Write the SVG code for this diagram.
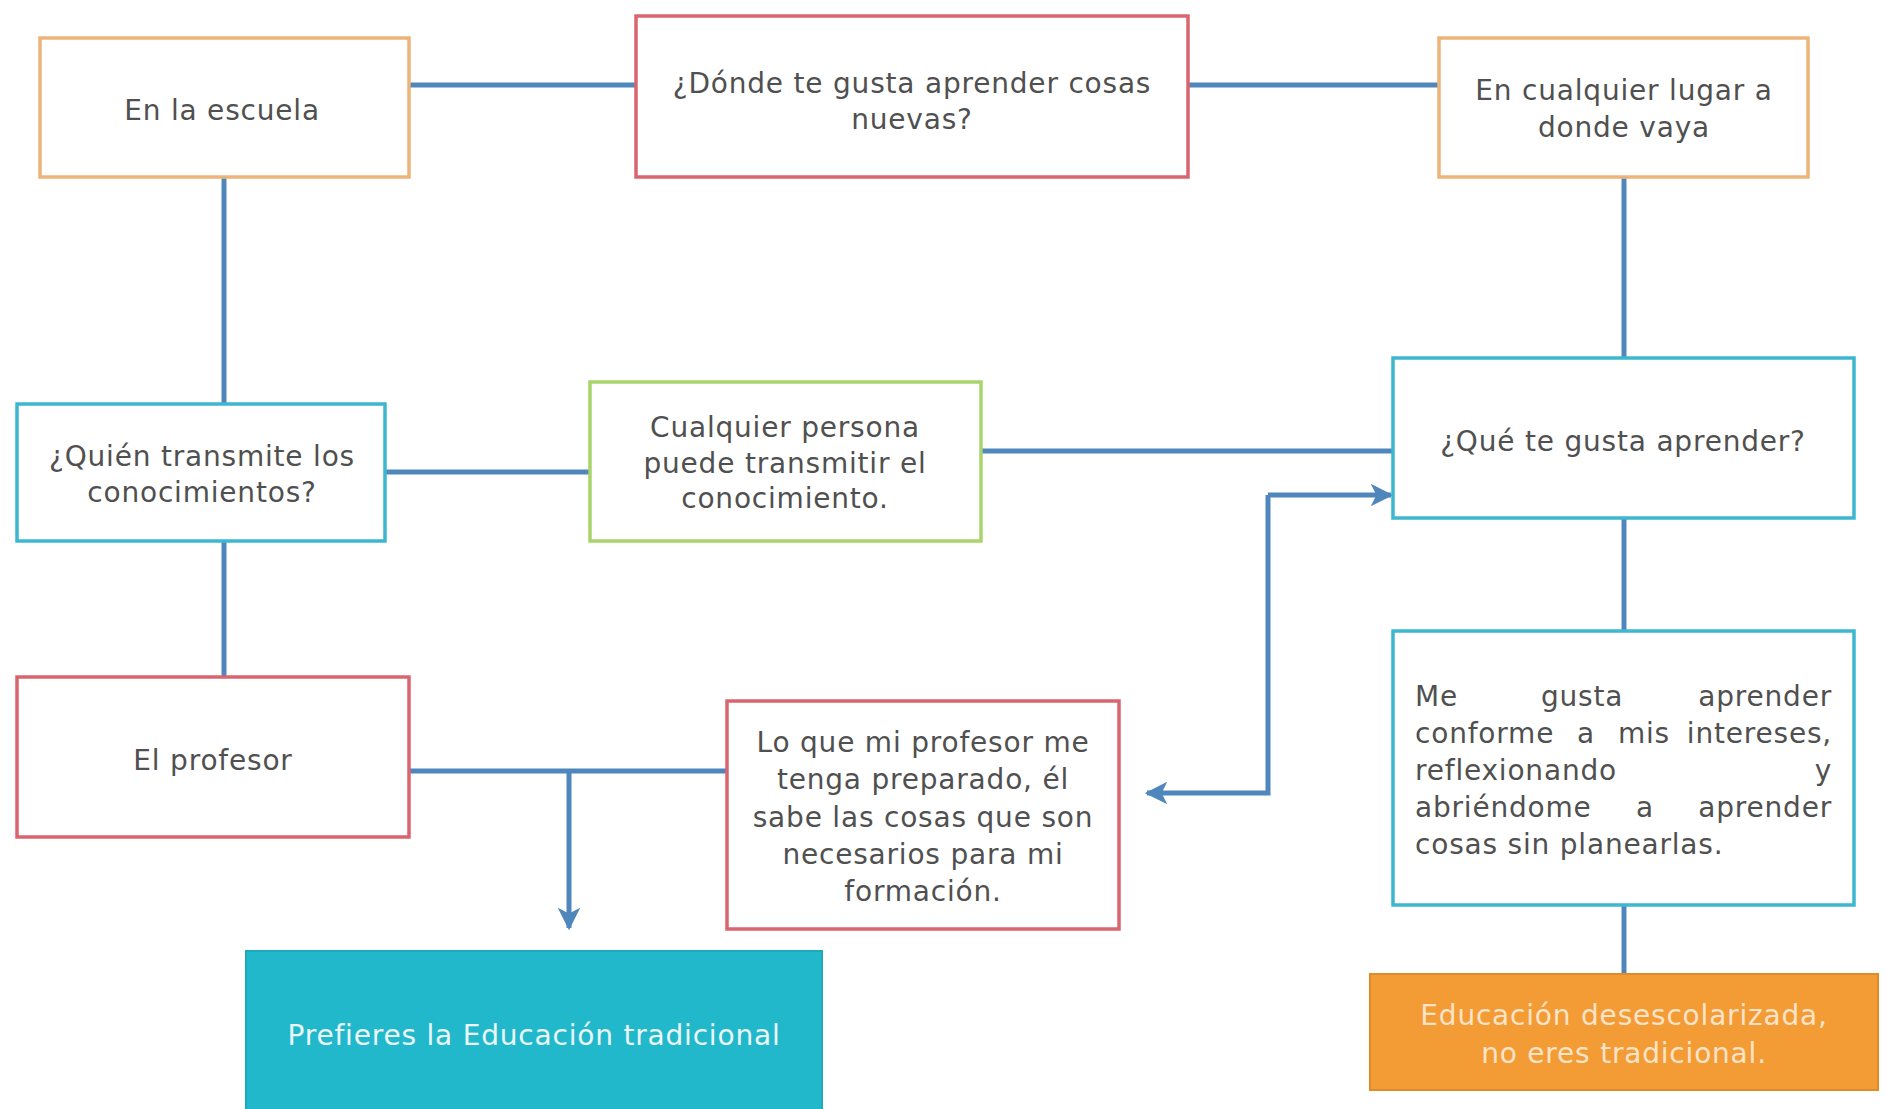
<svg xmlns="http://www.w3.org/2000/svg" width="1885" height="1109" viewBox="0 0 1885 1109">
<style>
.box{fill:#ffffff;stroke-width:3.5}
.org{stroke:#EDB47A}
.red{stroke:#D9656F}
.cyn{stroke:#3DB6CF}
.grn{stroke:#A9D46C}
.t{font-family:"DejaVu Sans","Open Sans",sans-serif;font-size:28px;letter-spacing:0.8px;fill:#505050;text-anchor:middle}
.w{fill:#EAF6F8}
.c{fill:none;stroke:#4F87BD;stroke-width:5}
</style>
<defs>
<marker id="ah" viewBox="0 0 10 10" refX="9" refY="5" markerWidth="4.5" markerHeight="4.5" orient="auto" markerUnits="strokeWidth">
<path d="M0,0 L10,5 L0,10 L2.5,5 Z" fill="#4F87BD"/>
</marker>
</defs>
<rect width="1885" height="1109" fill="#ffffff"/>
<g id="connectors">
<line class="c" x1="409" y1="85" x2="636" y2="85"/>
<line class="c" x1="1188" y1="85" x2="1439" y2="85"/>
<line class="c" x1="224" y1="177" x2="224" y2="404"/>
<line class="c" x1="224" y1="541" x2="224" y2="677"/>
<line class="c" x1="385" y1="472" x2="590" y2="472"/>
<line class="c" x1="981" y1="451" x2="1393" y2="451"/>
<line class="c" x1="1624" y1="177" x2="1624" y2="358"/>
<line class="c" x1="1624" y1="518" x2="1624" y2="631"/>
<line class="c" x1="1624" y1="905" x2="1624" y2="974"/>
<line class="c" x1="409" y1="771" x2="727" y2="771"/>
<line class="c" x1="569" y1="771" x2="569" y2="928" marker-end="url(#ah)"/>
<polyline class="c" points="1268,495 1391,495" marker-end="url(#ah)"/>
<polyline class="c" points="1268,495 1268,793 1147,793" marker-end="url(#ah)"/>
</g>
<g id="n1"><rect class="box org" x="40" y="38" width="369" height="139"/>
<text class="t" x="222" y="120">En la escuela</text></g>
<g id="n2"><rect class="box red" x="636" y="16" width="552" height="161"/>
<text class="t" x="912" y="93">¿Dónde te gusta aprender cosas</text>
<text class="t" x="912" y="129">nuevas?</text></g>
<g id="n3"><rect class="box org" x="1439" y="38" width="369" height="139"/>
<text class="t" x="1624" y="100">En cualquier lugar a</text>
<text class="t" x="1624" y="137">donde vaya</text></g>
<g id="n4"><rect class="box cyn" x="17" y="404" width="368" height="137"/>
<text class="t" x="202" y="466">¿Quién transmite los</text>
<text class="t" x="202" y="502">conocimientos?</text></g>
<g id="n5"><rect class="box grn" x="590" y="382" width="391" height="159"/>
<text class="t" x="785" y="437">Cualquier persona</text>
<text class="t" x="785" y="473">puede transmitir el</text>
<text class="t" x="785" y="508">conocimiento.</text></g>
<g id="n6"><rect class="box cyn" x="1393" y="358" width="461" height="160"/>
<text class="t" x="1623" y="451">¿Qué te gusta aprender?</text></g>
<g id="n7"><rect class="box red" x="17" y="677" width="392" height="160"/>
<text class="t" x="213" y="770">El profesor</text></g>
<g id="n8"><rect class="box red" x="727" y="701" width="392" height="228"/>
<text class="t" x="923" y="752">Lo que mi profesor me</text>
<text class="t" x="923" y="789">tenga preparado, él</text>
<text class="t" x="923" y="827">sabe las cosas que son</text>
<text class="t" x="923" y="864">necesarios para mi</text>
<text class="t" x="923" y="901">formación.</text></g>
<g id="n9"><rect class="box cyn" x="1393" y="631" width="461" height="274"/>
<text class="t" style="text-anchor:start" x="1415" y="706">Me</text>
<text class="t" x="1582" y="706">gusta</text>
<text class="t" style="text-anchor:end" x="1832" y="706">aprender</text>
<text class="t" style="text-anchor:start" x="1415" y="743">conforme</text>
<text class="t" x="1586" y="743">a</text>
<text class="t" x="1644" y="743">mis</text>
<text class="t" style="text-anchor:end" x="1832" y="743">intereses,</text>
<text class="t" style="text-anchor:start" x="1415" y="780">reflexionando</text>
<text class="t" style="text-anchor:end" x="1832" y="780">y</text>
<text class="t" style="text-anchor:start" x="1415" y="817">abriéndome</text>
<text class="t" x="1645" y="817">a</text>
<text class="t" style="text-anchor:end" x="1832" y="817">aprender</text>
<text class="t" style="text-anchor:start" x="1415" y="854">cosas sin planearlas.</text></g>
<g id="n10"><rect x="246" y="951" width="576" height="170" fill="#22B8CC" stroke="#1EA9BD" stroke-width="2"/>
<text class="t w" x="534" y="1045">Prefieres la Educación tradicional</text></g>
<g id="n11"><rect x="1370" y="974" width="508" height="116" fill="#F39B35" stroke="#E08A2A" stroke-width="2"/>
<text class="t" style="fill:#FBE3C8" x="1624" y="1025">Educación desescolarizada,</text>
<text class="t" style="fill:#FBE3C8" x="1624" y="1063">no eres tradicional.</text></g>
</svg>
